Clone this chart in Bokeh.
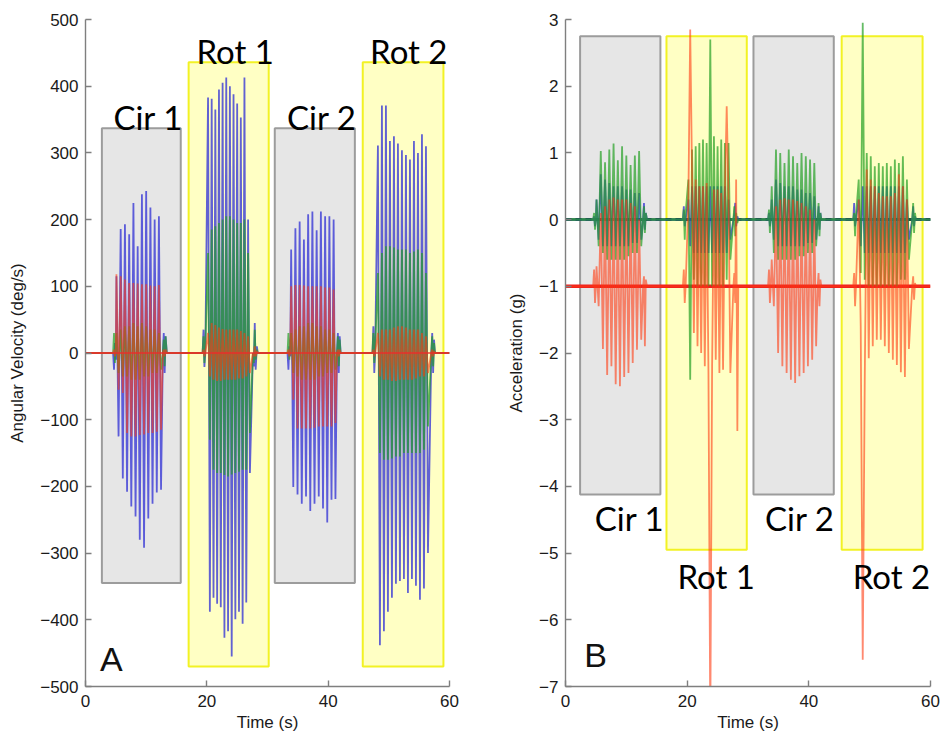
from bokeh.plotting import figure
from bokeh.layouts import row
from bokeh.models import Range1d, FixedTicker, ColumnDataSource
from bokeh.core.properties import value
from bokeh.embed import file_html
from bokeh.resources import INLINE

# ---------------- axis limits / ticks ----------------
X_MIN, X_MAX = 0, 60
X_TICKS = [0, 20, 40, 60]
A_Y_TICKS = [-500, -400, -300, -200, -100, 0, 100, 200, 300, 400, 500]
B_Y_TICKS = [-7, -6, -5, -4, -3, -2, -1, 0, 1, 2, 3]

# ---------------- trial windows (shaded boxes) ----------------
TRIALS = ["Cir 1", "Rot 1", "Cir 2", "Rot 2"]
A_BOX_LEFT = [2.7, 17.0, 31.2, 45.7]
A_BOX_RIGHT = [15.7, 30.2, 44.4, 59.0]
A_BOX_BOTTOM = [-345, -470, -345, -470]
A_BOX_TOP = [337, 436, 337, 436]
B_BOX_LEFT = [2.4, 16.6, 30.9, 45.4]
B_BOX_RIGHT = [15.6, 29.8, 44.1, 58.7]
B_BOX_BOTTOM = [-4.12, -4.95, -4.12, -4.95]
B_BOX_TOP = [2.75, 2.75, 2.75, 2.75]

# ---------------- turning-point times (s) of each trial ----------------
T_CIR1 = [4.55, 4.7, 4.85, 5.0,
          5.1, 5.45, 5.8, 6.15, 6.5, 6.85, 7.2, 7.55, 7.9, 8.25, 8.6, 8.95, 9.3, 9.65, 10.0, 10.35,
          10.7, 11.05, 11.4, 11.75, 12.1, 12.45,
          12.75, 12.9, 13.05, 13.2, 13.4]
T_ROT1 = [19.3, 19.45, 19.6, 19.75,
          20.2, 20.5, 20.8, 21.1, 21.4, 21.7, 22.0, 22.3, 22.6, 22.9, 23.2, 23.5, 23.8, 24.1, 24.4,
          24.7, 25.0, 25.3, 25.6, 25.9, 26.2, 26.5, 26.8, 27.1,
          27.6, 27.75, 27.9, 28.05, 28.25, 28.4]
T_CIR2 = [33.3, 33.45, 33.6, 33.75,
          33.9, 34.25, 34.6, 34.95, 35.3, 35.65, 36.0, 36.35, 36.7, 37.05, 37.4, 37.75, 38.1, 38.45,
          38.8, 39.15, 39.5, 39.85, 40.2, 40.55, 40.9, 41.2,
          41.45, 41.6, 41.75, 41.9, 42.05]
T_ROT2 = [47.3, 47.45, 47.6, 47.75,
          48.2, 48.53, 48.86, 49.19, 49.52, 49.85, 50.18, 50.51, 50.84, 51.17, 51.5, 51.83, 52.16,
          52.49, 52.82, 53.15, 53.48, 53.81, 54.14, 54.47, 54.8, 55.13, 55.46, 55.79, 56.12, 56.45,
          57.0, 57.15, 57.3, 57.45, 57.6]

# ---------------- Panel A: angular velocity (deg/s) ----------------
A_REST = [0, 0, 0]  # blue, green, red
A_BLUE_CIR1 = [0, -25, 15, -10,
               115, -125, 186, -188, 193, -208, 178, -230, 225, -245, 160, -280, 238, -292, 243, -248,
               218, -226, 200, -209, 205, -205,
               0, 30, -30, 25, 0]
A_GREEN_CIR1 = [0, 30, -15, 10,
                30, -30, 35, -35, 40, -35, 40, -40, 45, -40, 40, -40, 45, -35, 40, -35,
                35, -30, 35, -30, 30, -25,
                0, 20, -20, 25, 0]
A_RED_CIR1 = [0, 5, -5, 0,
              118, -55, 115, -60, 110, -120, 105, -125, 105, -125, 104, -123, 103, -122, 103, -120,
              101, -120, 100, -118, 102, -115,
              0, 5, -5, 5, 0]
A_BLUE_ROT1 = [0, 35, -21, 0,
               383, -388, 381, -367, 365, -376, 395, -381, 405, -427, 413, -417, 400, -455, 388, -399,
               374, -388, 353, -406, 413, -374, 200, -180,
               0, -20, 45, -25, 10, 0]
A_GREEN_ROT1 = [0, 25, -15, 10,
                150, -130, 185, -175, 190, -180, 195, -180, 200, -183, 205, -185, 205, -182, 200, -180,
                195, -178, 195, -175, 200, -175, 150, -120,
                0, -15, 35, -10, 5, 0]
A_RED_ROT1 = [0, 5, -5, 0,
              30, -35, 45, -40, 42, -42, 38, -42, 36, -40, 35, -40, 35, -40, 35, -40,
              35, -38, 33, -38, 30, -35, 25, -30,
              0, -5, 10, -5, 3, 0]
A_BLUE_CIR2 = [0, -25, 10, -5,
               155, -201, 187, -212, 197, -226, 170, -215, 208, -237, 212, -226, 184, -215, 212, -233,
               205, -254, 205, -220, 200, -219,
               0, 30, -30, 25, 0]
A_GREEN_CIR2 = [0, 30, -10, 15,
                30, -30, 35, -35, 40, -40, 40, -40, 45, -40, 45, -40, 40, -35, 40, -35,
                35, -30, 35, -30, 30, -25,
                0, 25, -20, 20, 0]
A_RED_CIR2 = [0, 5, -5, 0,
              100, -70, 102, -113, 102, -113, 101, -113, 100, -113, 100, -112, 100, -110, 100, -110,
              98, -110, 98, -110, 95, -105,
              0, 5, -5, 5, 0]
A_BLUE_ROT2 = [0, 40, -30, 0,
               311, -438, 371, -417, 371, -388, 318, -367, 325, -346, 314, -342, 304, -339, 297, -360,
               290, -339, 318, -349, 300, -370, 328, -353, 310, -300,
               0, 30, -30, 20, 0]
A_GREEN_ROT2 = [0, 30, -15, 10,
                120, -150, 150, -160, 160, -160, 160, -158, 158, -155, 155, -155, 155, -150, 155, -150,
                150, -150, 152, -150, 155, -150, 150, -145, 120, -110,
                0, 25, -20, 15, 0]
A_RED_ROT2 = [0, 5, -5, 0,
              30, -35, 35, -40, 35, -40, 35, -42, 38, -42, 40, -40, 40, -40, 38, -40,
              35, -40, 35, -38, 35, -35, 30, -35, 25, -30,
              0, 5, -5, 3, 0]

# ---------------- Panel B: acceleration (g) ----------------
B_REST = [0, 0, -1]  # blue, green, red
B_BLUE_CIR1 = [0, 0.05, -0.1, 0,
               0.3, -0.3, 0.68, -0.4, 0.6, -0.4, 0.55, -0.4, 0.5, -0.4, 0.5, -0.4, 0.5, -0.4, 0.45, -0.4,
               0.45, -0.35, 0.4, -0.35, 0.4, -0.3,
               0, 0.25, -0.15, 0.1, 0]
B_GREEN_CIR1 = [0, 0.1, -0.15, 0.05,
                0.3, -0.4, 1.03, -0.5, 0.86, -0.6, 1.05, -0.6, 1.14, -0.6, 0.89, -0.6, 1.10, -0.6, 0.96, -0.55,
                0.82, -0.5, 0.96, -0.5, 1.03, -0.4,
                0, 0.2, -0.2, 0.1, 0]
B_RED_CIR1 = [-1, -0.75, -1.25, -1,
              -0.7, -1.3, 0.1, -1.94, 0.2, -2.33, 0.3, -2.2, 0.33, -2.47, 0.3, -2.5, 0.3, -2.36, 0.3, -2.3,
              0.25, -2.15, 0.2, -1.95, 0.0, -1.8,
              -1, -0.85, -1.9, -0.9, -1]
B_BLUE_ROT1 = [0, 0.2, -0.1, 0,
               0.3, -0.4, 0.5, -0.5, 0.5, -0.5, 0.5, -0.5, 0.5, -0.5, 0.5, -0.5, 0.5, -0.5, 0.5, -0.5,
               0.5, -0.5, 0.5, -0.5, 0.5, -0.5, 0.3, -0.3,
               0, 0.1, 0.25, -0.1, 0.05, 0]
B_GREEN_ROT1 = [0, 0.15, -0.3, 0.1,
                0.6, -2.4, 1.05, -0.9, 1.1, -1.0, 1.15, -1.0, 1.2, -1.0, 1.15, -1.0, 2.7, -1.0, 1.25, -1.0,
                1.1, -1.0, 1.2, -1.0, 1.15, -0.9, 1.15, -0.6,
                0, 0.2, -0.25, 0.1, -0.05, 0]
B_RED_ROT1 = [-1, -0.75, -1.25, -1,
              0.3, 2.85, 0.7, -1.7, 0.6, -1.9, 0.5, -2.0, 0.5, -2.2, 0.55, -2.3, -7.6, -2.2, 0.45, -2.1,
              0.45, -2.3, 0.4, -2.25, 0.4, 1.7, 0.35, -2.3,
              -1, -0.8, -1.25, 0.6, -3.17, -1]
B_BLUE_CIR2 = [0, 0.1, -0.1, 0,
               0.3, -0.3, 0.6, -0.4, 0.55, -0.4, 0.5, -0.4, 0.5, -0.4, 0.5, -0.4, 0.45, -0.4, 0.45, -0.4,
               0.4, -0.35, 0.4, -0.35, 0.35, -0.3,
               0, 0.2, -0.15, 0.1, 0]
B_GREEN_CIR2 = [0, 0.15, -0.2, 0.05,
                0.5, -0.5, 1.05, -0.6, 1.0, -0.6, 0.85, -0.6, 1.05, -0.6, 0.95, -0.6, 0.85, -0.55, 1.0, -0.55,
                0.95, -0.5, 0.9, -0.5, 0.85, -0.4,
                0, 0.25, -0.25, 0.1, 0]
B_RED_CIR2 = [-1, -0.75, -1.25, -1,
              -0.6, -1.3, 0.2, -2.0, 0.3, -2.2, 0.32, -2.3, 0.3, -2.4, 0.3, -2.45, 0.28, -2.35, 0.25, -2.3,
              0.2, -2.2, 0.15, -2.1, 0.0, -1.9,
              -1, -0.8, -1.3, -0.9, -1]
B_BLUE_ROT2 = [0, 0.25, -0.1, 0,
               0.3, -0.4, 0.5, -0.5, 0.5, -0.5, 0.5, -0.5, 0.5, -0.5, 0.5, -0.5, 0.5, -0.5, 0.5, -0.5,
               0.5, -0.5, 0.5, -0.5, 0.5, -0.5, 0.5, -0.5, 0.3, -0.3,
               0, 0.2, -0.1, 0.05, 0]
B_GREEN_ROT2 = [0, 0.1, -0.25, 0.05,
                0.6, -0.8, 2.95, -0.9, 1.0, -1.0, 0.95, -1.0, 0.8, -1.0, 0.85, -1.0, 0.8, -1.0, 0.85, -1.0,
                0.8, -1.0, 0.9, -1.0, 0.85, -0.9, 0.95, -0.9, 0.6, -0.6,
                0, 0.25, -0.2, 0.1, 0]
B_RED_ROT2 = [-1, -0.8, -1.3, -1,
              0.3, -1.6, -6.6, -2.43, 0.75, -2.08, 0.6, -1.9, 0.5, -1.8, 0.4, -1.8, 0.35, -1.9, 0.35, -2.0,
              0.35, -2.1, 0.4, -2.18, 0.68, -2.29, 0.5, -2.36, 0.3, -1.94,
              -1, -0.85, -1.2, -0.95, -1]

# ---------------- label placement (data coordinates) ----------------
A_LABEL_X = [4.6, 18.3, 33.2, 46.9]
A_LABEL_Y = [354, 453, 354, 453]
B_LABEL_X = [4.8, 18.4, 32.8, 47.2]
B_LABEL_Y = [-4.47, -5.34, -4.47, -5.34]

BLUE, GREEN, RED = "#3a3ad6", "#23a023", "#ff3a10"
TIMES = [T_CIR1, T_ROT1, T_CIR2, T_ROT2]


def build(rest, vals_by_trial):
    t, v = [X_MIN], [rest]
    for times, vals in zip(TIMES, vals_by_trial):
        assert len(times) == len(vals), (len(times), len(vals))
        t += times
        v += vals
    t.append(X_MAX)
    v.append(rest)
    return t, v


def style_axes(p):
    p.outline_line_color = None
    p.xgrid.visible = False
    p.ygrid.visible = False
    p.background_fill_color = "white"
    p.border_fill_color = "white"
    for ax in (p.xaxis[0], p.yaxis[0]):
        ax.axis_line_color = "#7f7f7f"
        ax.axis_line_width = 1.4
        ax.major_tick_line_color = "#7f7f7f"
        ax.major_tick_line_width = 1.4
        ax.major_tick_in = 6
        ax.major_tick_out = 0
        ax.minor_tick_line_color = None
        ax.major_label_text_font = "Liberation Sans"
        ax.major_label_text_font_size = "17px"
        ax.major_label_text_color = "#1a1a1a"
        ax.axis_label_text_font = "Liberation Sans"
        ax.axis_label_text_font_size = "17px"
        ax.axis_label_text_font_style = "normal"
        ax.axis_label_text_color = "#1a1a1a"
    p.xaxis[0].major_label_standoff = 8
    p.xaxis[0].axis_label_standoff = 3
    p.yaxis[0].major_label_standoff = 7
    p.yaxis[0].axis_label_standoff = 10


def panel(width, left, right, yr, yticks, ylabel, boxes):
    p = figure(width=width, height=739, output_backend="svg", toolbar_location=None,
               x_range=Range1d(X_MIN, X_MAX), y_range=Range1d(*yr),
               min_border_left=left, min_border_right=right, min_border_top=19, min_border_bottom=53)
    style_axes(p)
    p.xaxis.ticker = FixedTicker(ticks=X_TICKS)
    p.yaxis.ticker = FixedTicker(ticks=yticks)
    p.xaxis.axis_label = "Time (s)"
    p.yaxis.axis_label = ylabel

    bl, br, bb, bt = boxes
    box_src = ColumnDataSource(dict(left=bl, right=br, bottom=bb, top=bt,
                                    fill=["#e6e6e6", "#ffffc4", "#e6e6e6", "#ffffc4"],
                                    line=["#9c9c9c", "#f2f224", "#9c9c9c", "#f2f224"]))
    p.quad(left="left", right="right", bottom="bottom", top="top", source=box_src,
           fill_color="fill", line_color="line", line_width=2)
    return p


LW = 1.8

# ---------- Panel A ----------
pa = panel(470, 85, 21, (-500, 500), A_Y_TICKS, "Angular Velocity (deg/s)",
           (A_BOX_LEFT, A_BOX_RIGHT, A_BOX_BOTTOM, A_BOX_TOP))
a_series = [
    (BLUE, build(A_REST[0], [A_BLUE_CIR1, A_BLUE_ROT1, A_BLUE_CIR2, A_BLUE_ROT2]), 0.8),
    (GREEN, build(A_REST[1], [A_GREEN_CIR1, A_GREEN_ROT1, A_GREEN_CIR2, A_GREEN_ROT2]), 0.7),
    (RED, build(A_REST[2], [A_RED_CIR1, A_RED_ROT1, A_RED_CIR2, A_RED_ROT2]), 0.6),
]
for col, (t, v), alpha in a_series:
    pa.line(t, v, line_color=col, line_width=LW, line_alpha=alpha)
pa.line([X_MIN, X_MAX], [A_REST[2], A_REST[2]], line_color="#ee2a2a", line_width=1.6, line_alpha=0.9)
pa.text(x=A_LABEL_X, y=A_LABEL_Y, text=TRIALS, text_font=value("Lato"), text_font_size="33px",
        text_color="black", text_baseline="alphabetic", text_align="left")
pa.text(x=[2.4], y=[-459], text=["A"], text_font=value("Liberation Sans"), text_font_size="34px",
        text_color="#111111", text_baseline="alphabetic", text_align="left")

# ---------- Panel B ----------
pb = panel(471, 95, 11, (-7, 3), B_Y_TICKS, "Acceleration (g)",
           (B_BOX_LEFT, B_BOX_RIGHT, B_BOX_BOTTOM, B_BOX_TOP))
pb.line([X_MIN, X_MAX], [B_REST[2], B_REST[2]], line_color="#ee2020", line_width=3.5)
pb.line([X_MIN, X_MAX], [B_REST[1], B_REST[1]], line_color="#4aa040", line_width=3)
pb.line([X_MIN, X_MAX], [B_REST[0], B_REST[0]], line_color="#1f5a3a", line_width=3, line_dash="6 4")
b_series = [
    (BLUE, build(B_REST[0], [B_BLUE_CIR1, B_BLUE_ROT1, B_BLUE_CIR2, B_BLUE_ROT2]), 0.8),
    (GREEN, build(B_REST[1], [B_GREEN_CIR1, B_GREEN_ROT1, B_GREEN_CIR2, B_GREEN_ROT2]), 0.7),
    (RED, build(B_REST[2], [B_RED_CIR1, B_RED_ROT1, B_RED_CIR2, B_RED_ROT2]), 0.6),
]
for col, (t, v), alpha in b_series:
    pb.line(t, v, line_color=col, line_width=LW, line_alpha=alpha)
pb.text(x=B_LABEL_X, y=B_LABEL_Y, text=TRIALS, text_font=value("Lato"), text_font_size="33px",
        text_color="black", text_baseline="alphabetic", text_align="left")
pb.text(x=[3.1], y=[-6.53], text=["B"], text_font=value("Liberation Sans"), text_font_size="34px",
        text_color="#111111", text_baseline="alphabetic", text_align="left")

layout = row(pa, pb)
open("out.html", "w").write(file_html(layout, INLINE))
